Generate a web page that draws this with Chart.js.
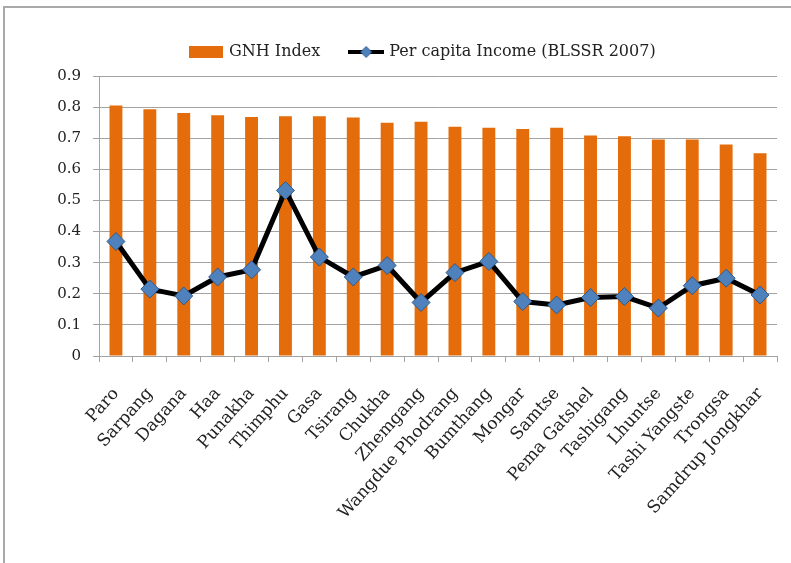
<!DOCTYPE html>
<html>
<head>
<meta charset="utf-8">
<script src="https://cdn.jsdelivr.net/npm/chart.js@4/dist/chart.umd.min.js"></script>
<style>
  html, body { margin: 0; padding: 0; background: #fff; }
  #wrap { position: relative; width: 791px; height: 563px; overflow: hidden; }
  #frame { position: absolute; left: 3px; top: 6px; right: -10px; bottom: -10px;
           border-left: 2px solid #a9a9a9; border-top: 2px solid #a9a9a9; }
  #chart { position: absolute; left: 0; top: 0; }
</style>
</head>
<body>
<div id="wrap">
  <div id="frame"></div>
  <canvas id="chart" width="791" height="563"></canvas>
</div>
<script>
/* ================= DATA ================= */
const districts = ["Paro", "Sarpang", "Dagana", "Haa", "Punakha", "Thimphu", "Gasa", "Tsirang",
  "Chukha", "Zhemgang", "Wangdue Phodrang", "Bumthang", "Mongar", "Samtse", "Pema Gatshel",
  "Tashigang", "Lhuntse", "Tashi Yangste", "Trongsa", "Samdrup Jongkhar"];
const gnhIndex = [0.805, 0.793, 0.781, 0.774, 0.768, 0.771, 0.771, 0.767, 0.750, 0.753,
  0.737, 0.734, 0.730, 0.734, 0.709, 0.706, 0.696, 0.696, 0.680, 0.652];
const perCapita = [0.368, 0.215, 0.193, 0.254, 0.277, 0.532, 0.318, 0.254, 0.291, 0.172,
  0.268, 0.304, 0.175, 0.164, 0.188, 0.191, 0.154, 0.226, 0.250, 0.196];
const seriesNames = ["GNH Index", "Per capita Income (BLSSR 2007)"];
const yTicks = [0, 0.1, 0.2, 0.3, 0.4, 0.5, 0.6, 0.7, 0.8, 0.9];

const ORANGE = "#E46C0A";
const BLUE = "#4F81BD";
const GRID = "#a3a3a3";
const FONT = "'DejaVu Serif', 'Liberation Serif', serif";

/* ================= LEGEND ICONS ================= */
function barIcon(){
    const c = document.createElement("canvas");
    c.width = 34; c.height = 12;
    const g = c.getContext("2d");
    g.fillStyle = ORANGE;
    g.fillRect(0, 0, 34, 12);
    return c;
}
function lineIcon(){
    const c = document.createElement("canvas");
    c.width = 36; c.height = 14;
    const g = c.getContext("2d");
    g.strokeStyle = "#000";
    g.lineWidth = 4;
    g.beginPath(); g.moveTo(0, 7); g.lineTo(36, 7); g.stroke();
    g.fillStyle = BLUE;
    g.strokeStyle = "#2f5b8c";
    g.lineWidth = 1;
    g.beginPath();
    g.moveTo(18, 1.5); g.lineTo(23.5, 7); g.lineTo(18, 12.5); g.lineTo(12.5, 7); g.closePath();
    g.fill(); g.stroke();
    return c;
}
const icons = [barIcon(), lineIcon()];

/* ================= PLUGINS ================= */
// fixed legend height + position like the original
const legendPlace = {
    id: "legendPlace",
    beforeInit(chart){
        const fit = chart.legend.fit;
        chart.legend.fit = function(){
            fit.call(this);
            this.height = 63;
        };
    },
    afterLayout(chart){
        const lg = chart.legend;
        const w = lg.right - lg.left;
        lg.left = 160;
        lg.right = 160 + w;
    }
};

/* ================= CHART ================= */
new Chart(document.getElementById("chart"), {
    type: "bar",
    data: {
        labels: districts,
        datasets: [
            {
                type: "bar",
                label: seriesNames[0],
                data: gnhIndex,
                backgroundColor: ORANGE,
                barPercentage: 0.38,
                categoryPercentage: 1,
                order: 1
            },
            {
                type: "line",
                label: seriesNames[1],
                data: perCapita,
                borderColor: "#000",
                borderWidth: 5,
                tension: 0,
                pointStyle: "rectRot",
                pointRadius: 9,
                pointBackgroundColor: BLUE,
                pointBorderColor: "#2f5b8c",
                pointBorderWidth: 1,
                order: 0
            }
        ]
    },
    options: {
        responsive: false,
        animation: false,
        layout: { padding: { top: 13, left: 0, right: 14, bottom: 0 } },
        plugins: {
            tooltip: { enabled: false },
            legend: {
                position: "top",
                align: "start",
                labels: {
                    usePointStyle: true,
                    pointStyleWidth: 30,
                    padding: 31,
                    color: "#222",
                    font: { family: FONT, size: 16 },
                    generateLabels(chart){
                        const items = Chart.defaults.plugins.legend.labels.generateLabels(chart);
                        items.sort((a, b) => a.datasetIndex - b.datasetIndex);
                        items.forEach(it => { it.pointStyle = icons[it.datasetIndex]; });
                        return items;
                    }
                }
            }
        },
        scales: {
            x: {
                grid: { drawOnChartArea: false, drawTicks: true, tickLength: 6, color: GRID, offset: true },
                border: { color: GRID },
                ticks: {
                    autoSkip: false, maxRotation: 48, minRotation: 48, padding: 22,
                    color: "#222", font: { family: FONT, size: 17 }
                },
                afterFit(s){
                    s.height = 207;
                    s.paddingLeft = 0;
                    s.paddingRight = 0;
                }
            },
            y: {
                min: 0, max: 0.9,
                afterBuildTicks(s){ s.ticks = yTicks.map(v => ({ value: v })); },
                grid: { color: GRID, tickLength: 6 },
                border: { color: GRID },
                ticks: {
                    padding: 12, color: "#222", font: { family: FONT, size: 15 },
                    callback: v => String(v)
                },
                afterFit(s){ s.width = 99; }
            }
        }
    },
    plugins: [legendPlace]
});
</script>
</body>
</html>
